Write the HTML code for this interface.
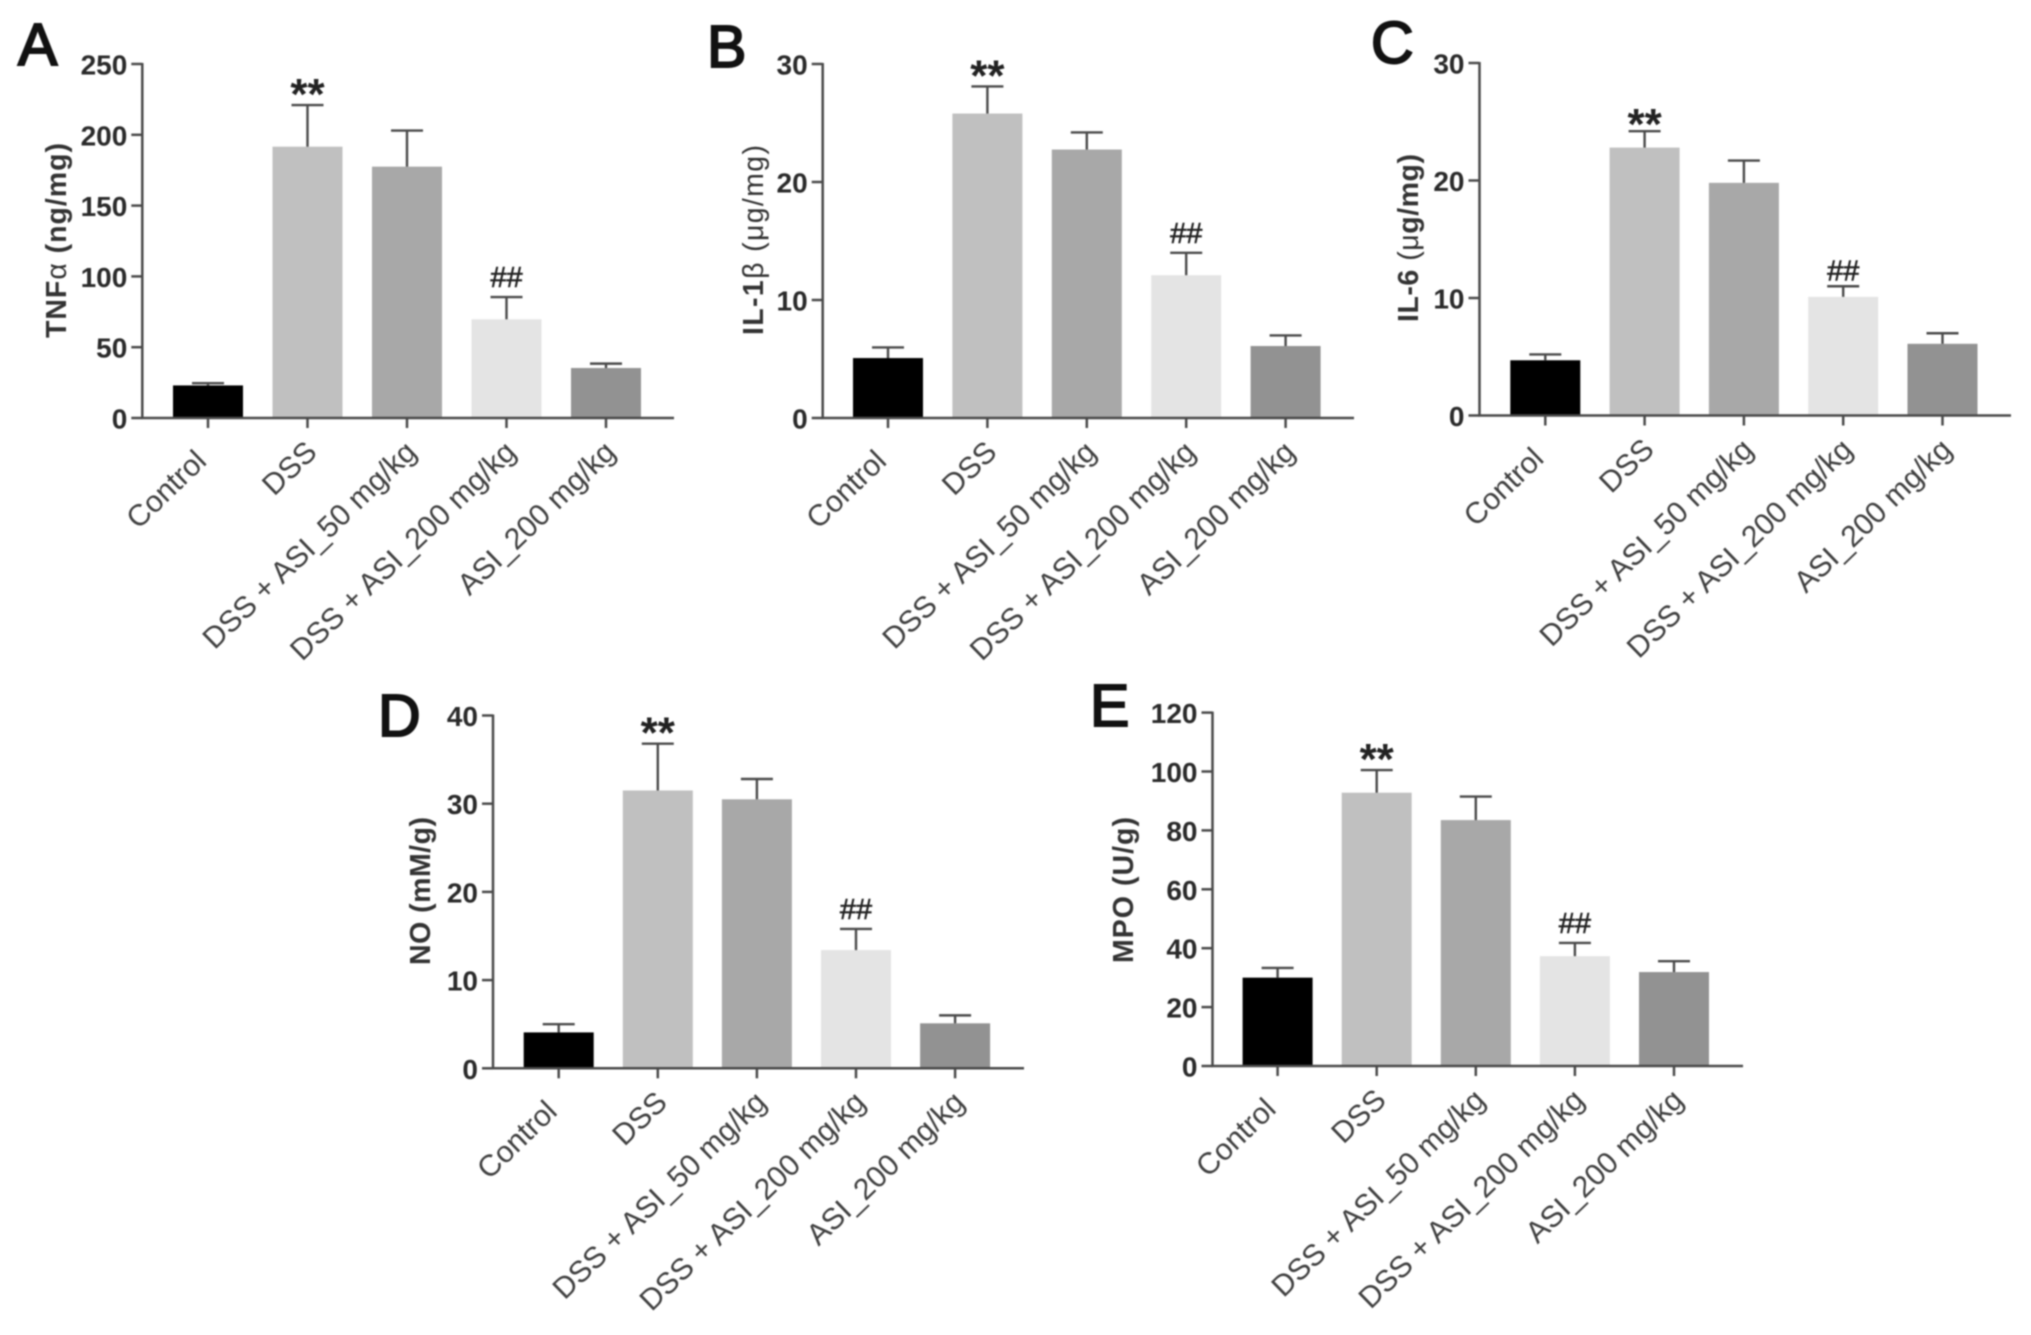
<!DOCTYPE html>
<html lang="en">
<head>
<meta charset="utf-8">
<title>Cytokine levels bar charts</title>
<style>
html,body{margin:0;padding:0;background:#fff;width:2031px;height:1335px;overflow:hidden}
svg{display:block;filter:blur(.9px)}
text{font-family:"Liberation Sans",sans-serif}
</style>
</head>
<body>
<svg id="figure" xmlns="http://www.w3.org/2000/svg" width="2031" height="1335" viewBox="0 0 2031 1335"></svg>
<script>
const categories = ['Control', 'DSS', 'DSS + ASI_50 mg/kg', 'DSS + ASI_200 mg/kg', 'ASI_200 mg/kg'];
const annotations = ['', '**', '', '##', ''];

const tnfValues = [23, 191.6, 177.5, 69.7, 35.3];
const tnfErrors = [1.6, 29.4, 25.5, 15.7, 3.1];
const tnfTicks = [0, 50, 100, 150, 200, 250];

const il1Values = [5.08, 25.8, 22.75, 12.1, 6.1];
const il1Errors = [0.9, 2.3, 1.45, 1.9, 0.9];
const il1Ticks = [0, 10, 20, 30];

const il6Values = [4.7, 22.8, 19.8, 10.1, 6.1];
const il6Errors = [0.5, 1.4, 1.9, 0.9, 0.9];
const il6Ticks = [0, 10, 20, 30];

const noValues = [4.07, 31.5, 30.5, 13.4, 5.1];
const noErrors = [0.93, 5.3, 2.3, 2.4, 0.9];
const noTicks = [0, 10, 20, 30, 40];

const mpoValues = [30, 92.8, 83.5, 37.3, 31.9];
const mpoErrors = [3.3, 7.7, 8, 4.5, 3.7];
const mpoTicks = [0, 20, 40, 60, 80, 100, 120];

const barColors = ['#000000', '#c0c0c0', '#a8a8a8', '#e4e4e4', '#929292'];

const NS = 'http://www.w3.org/2000/svg';
const figure = document.getElementById('figure');

function make(parent, tag, attrs, text) {
  const el = document.createElementNS(NS, tag);
  for (const k in attrs) el.setAttribute(k, attrs[k]);
  if (text !== undefined) el.textContent = text;
  parent.appendChild(el);
  return el;
}

function drawPanel(p) {
  const g = make(figure, 'g', {});
  
  

  const maxTick = p.ticks[p.ticks.length - 1];
  const yScale = v => p.y0 - (v / maxTick) * (p.y0 - p.yTop);
  const xScale = i => p.firstX + i * p.step;
  const axisColor = '#4a4a4a';
  const markShift = p.markShift || 0;

  const letter = make(g, 'text', {x: p.lx, y: p.ly, 'font-size': 59, fill: '#111', stroke: '#111', 'stroke-width': 2}, p.letter);
  
  

  // bars
  p.values.forEach((v, i) => {
    const top = yScale(v);
    const bar = make(g, 'rect', {x: xScale(i) - 35, y: top, width: 70, height: p.y0 - top, fill: barColors[i]});
    
    
  });

  // error bars
  p.values.forEach((v, i) => {
    const cap = yScale(v + p.errors[i]);
    const stem = make(g, 'line', {x1: xScale(i), x2: xScale(i), y1: yScale(v), y2: cap, stroke: axisColor, 'stroke-width': 2.4});
    
    
    const capLine = make(g, 'line', {x1: xScale(i) - 16, x2: xScale(i) + 16, y1: cap, y2: cap, stroke: axisColor, 'stroke-width': 2.4});
    
    

    if (annotations[i]) {
      const star = annotations[i] === '**';
      const mark = make(g, 'text', {
        x: xScale(i), y: (star ? cap + 4 : cap - 10) + markShift,
        'text-anchor': 'middle',
        'font-size': star ? 44 : 29,
        'font-weight': star ? 'bold' : 'normal',
        fill: '#222',
        stroke: star ? 'none' : '#222',
        'stroke-width': star ? 0 : 0.6
      }, annotations[i]);
      
      
    }
  });

  // y axis
  const yAxis = make(g, 'line', {x1: p.axisX, x2: p.axisX, y1: p.yTop - 1, y2: p.y0 + 1, stroke: axisColor, 'stroke-width': 2.5});
  
  
  p.ticks.forEach(t => {
    const y = yScale(t);
    const tick = make(g, 'line', {x1: p.axisX - 11, x2: p.axisX, y1: y, y2: y, stroke: axisColor, 'stroke-width': 2.5});
    
    
    const label = make(g, 'text', {x: p.axisX - 15, y: y + 10.5, 'text-anchor': 'end', 'font-size': 28, 'font-weight': 'bold', fill: '#2a2a2a'}, String(t));
    
    
  });

  // x axis
  const xAxis = make(g, 'line', {x1: p.axisX - 1, x2: p.xEnd, y1: p.y0, y2: p.y0, stroke: axisColor, 'stroke-width': 2.5});
  
  
  categories.forEach((c, i) => {
    const x = xScale(i);
    const tick = make(g, 'line', {x1: x, x2: x, y1: p.y0, y2: p.y0 + 10, stroke: axisColor, 'stroke-width': 2.5});
    
    
    const nudgeX = i === 0 ? -11 : 0;
    const nudgeY = i === 0 ? 9 : 0;
    const lx = x + 11 + nudgeX, ly = p.y0 + 36 + nudgeY;
    const label = make(g, 'text', {x: lx, y: ly, 'text-anchor': 'end', 'font-size': 30, fill: '#404040', transform: 'rotate(-44 ' + lx + ' ' + ly + ')'}, c);
    
    
  });

  // y title
  const ty = (p.titleTop + p.titleBottom) / 2;
  const title = make(g, 'text', {x: p.titleX, y: ty, 'text-anchor': 'middle', 'font-size': 28.5, 'font-weight': 'bold', fill: '#333',
    textLength: p.titleBottom - p.titleTop, lengthAdjust: 'spacing',
    transform: 'rotate(-90 ' + p.titleX + ' ' + ty + ')'});
  
  
  p.title.forEach(part => {
    make(title, 'tspan', {'font-weight': part[1] ? 'normal' : 'bold'}, part[0]);
  });
}

drawPanel({letter: 'A', lx: 18, ly: 65, axisX: 142.3, xEnd: 674, y0: 418, yTop: 64, firstX: 208, step: 99.5,
  values: tnfValues, errors: tnfErrors, ticks: tnfTicks,
  title: [['TNF', 0], ['α', 1], ['\u00a0(ng/mg)', 0]], titleX: 66, titleTop: 143, titleBottom: 338});
drawPanel({letter: 'B', lx: 707, ly: 67, axisX: 822.7, xEnd: 1354, y0: 418, yTop: 64, firstX: 888, step: 99.4,
  values: il1Values, errors: il1Errors, ticks: il1Ticks,
  title: [['IL-1', 0], ['β', 1], ['\u00a0', 0], ['(μg/mg)', 1]], titleX: 763, titleTop: 145, titleBottom: 335});
drawPanel({letter: 'C', lx: 1371, ly: 63, axisX: 1479.5, xEnd: 2011, y0: 415.5, yTop: 63, firstX: 1545.3, step: 99.3, markShift: 4,
  values: il6Values, errors: il6Errors, ticks: il6Ticks,
  title: [['IL-6 ', 0], ['(μ', 1], ['g/mg)', 0]], titleX: 1418, titleTop: 154, titleBottom: 322});
drawPanel({letter: 'D', lx: 378, ly: 736, axisX: 493, xEnd: 1024, y0: 1068.3, yTop: 715.5, firstX: 558.7, step: 99.1,
  values: noValues, errors: noErrors, ticks: noTicks,
  title: [['NO (mM/g)', 0]], titleX: 430, titleTop: 817, titleBottom: 965});
drawPanel({letter: 'E', lx: 1090, ly: 726, axisX: 1212.5, xEnd: 1743, y0: 1066, yTop: 712.6, firstX: 1277.6, step: 99.1,
  values: mpoValues, errors: mpoErrors, ticks: mpoTicks,
  title: [['MPO (U/g)', 0]], titleX: 1133, titleTop: 817, titleBottom: 963});
</script>
</body>
</html>
